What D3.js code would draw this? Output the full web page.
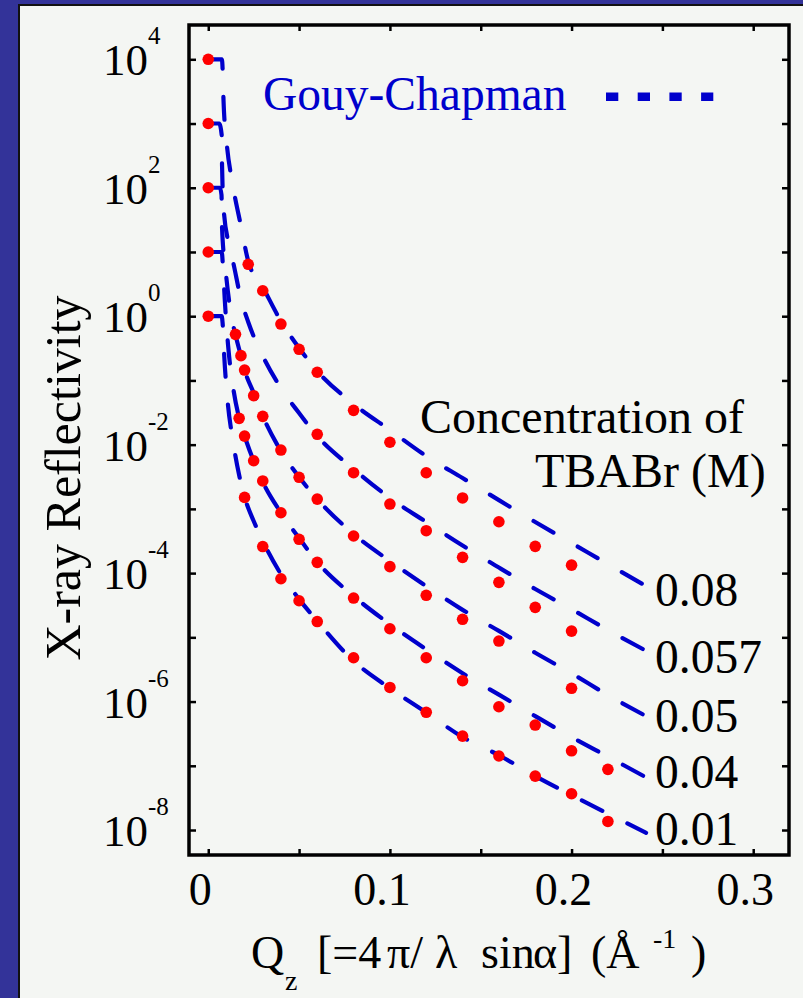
<!DOCTYPE html>
<html>
<head>
<meta charset="utf-8">
<script src="https://cdn.jsdelivr.net/npm/d3@7/dist/d3.min.js"></script>
<style>
  html, body { margin: 0; padding: 0; background: #333399; }
  svg { display: block; }
  text { font-family: "Liberation Serif", "Times New Roman", serif; fill: #000; }
</style>
</head>
<body>
<svg id="chart" width="803" height="998"></svg>
<script>
// ---- Data: X-ray reflectivity vs Qz, curves offset by decades ----
const concentrations = ["0.08", "0.057", "0.05", "0.04", "0.01"];

// measured points (Qz in 1/Å, offset reflectivity)
const qMeas008 = [0, 0.022, 0.03, 0.04, 0.05, 0.06, 0.08, 0.10, 0.12, 0.14, 0.16, 0.18, 0.20];
const rMeas008 = [1e4, 6.43, 2.49, 0.755, 0.305, 0.134, 0.0342, 0.0109, 0.00365, 0.00148, 6.3e-4, 2.61e-4, 1.33e-4];

const qMeas0057 = [0, 0.06, 0.08, 0.10, 0.12, 0.14, 0.16, 0.18, 0.20];
const rMeas0057 = [1e3, 0.0145, 0.00366, 0.00119, 4.57e-4, 1.76e-4, 7.18e-5, 2.93e-5, 1.25e-5];

const qMeas005 = [0, 0.015, 0.018, 0.02, 0.025, 0.03, 0.04, 0.05, 0.06, 0.08, 0.10, 0.12, 0.14, 0.16, 0.20];
const rMeas005 = [100, 0.522, 0.243, 0.145, 0.0578, 0.0276, 0.00824, 0.0031, 0.00142, 3.78e-4, 1.26e-4, 4.51e-5, 1.91e-5, 8.75e-6, 1.61e-6];

const qMeas004 = [0, 0.017, 0.02, 0.025, 0.03, 0.04, 0.05, 0.06, 0.08, 0.10, 0.12, 0.14, 0.16, 0.18, 0.20, 0.22];
const rMeas004 = [10, 0.0257, 0.0136, 0.00562, 0.00272, 8.7e-4, 3.36e-4, 1.47e-4, 4.09e-5, 1.36e-5, 4.81e-6, 2.11e-6, 8.3e-7, 4.31e-7, 1.71e-7, 8.8e-8];

const qMeas001 = [0, 0.02, 0.03, 0.04, 0.05, 0.06, 0.08, 0.10, 0.12, 0.14, 0.16, 0.18, 0.20, 0.22];
const rMeas001 = [1, 0.00151, 2.59e-4, 8.17e-5, 3.71e-5, 1.76e-5, 4.81e-6, 1.66e-6, 6.8e-7, 2.9e-7, 1.42e-7, 6.9e-8, 3.67e-8, 1.36e-8];

// Gouy-Chapman model curves
const qFit008 = [0, 0.0075, 0.0079, 0.0084, 0.0101, 0.0133, 0.018, 0.022, 0.03, 0.04, 0.05, 0.06, 0.08, 0.10, 0.12, 0.14, 0.16, 0.18, 0.20, 0.22, 0.241];
const rFit008 = [1e4, 1e4, 7.1e3, 2.3e3, 515, 119, 25.4, 7.23, 2.84, 0.841, 0.320, 0.140, 0.0430, 0.0169, 0.00665, 0.00302, 0.00137, 6.24e-4, 2.94e-4, 1.38e-4, 6.29e-5];

const qFit0057 = [0, 0.006, 0.0074, 0.0076, 0.0085, 0.011, 0.0138, 0.018, 0.022, 0.03, 0.04, 0.05, 0.06, 0.08, 0.10, 0.12, 0.14, 0.16, 0.18, 0.20, 0.22, 0.241];
const rFit0057 = [1e3, 1e3, 662, 218, 46.7, 14.45, 6.73, 1.853, 0.811, 0.240, 0.0762, 0.0310, 0.0136, 0.00417, 0.00148, 6.24e-4, 2.69e-4, 1.22e-4, 5.65e-5, 2.74e-5, 1.30e-5, 6.18e-6];

const qFit005 = [0, 0.0064, 0.0073, 0.0076, 0.0096, 0.0127, 0.015, 0.018, 0.02, 0.025, 0.03, 0.04, 0.05, 0.06, 0.08, 0.10, 0.12, 0.14, 0.16, 0.18, 0.20, 0.22, 0.241];
const rFit005 = [100, 100, 77.1, 23.6, 5.06, 1.01, 0.509, 0.240, 0.145, 0.0637, 0.0279, 0.00796, 0.00313, 0.00142, 4.06e-4, 1.54e-4, 6.27e-5, 2.68e-5, 1.26e-5, 5.75e-6, 2.75e-6, 1.26e-6, 5.94e-7];

const qFit004 = [0, 0.0074, 0.0082, 0.0091, 0.0109, 0.0135, 0.017, 0.02, 0.025, 0.03, 0.04, 0.05, 0.06, 0.08, 0.10, 0.12, 0.14, 0.16, 0.18, 0.20, 0.22, 0.241];
const rFit004 = [10, 10, 5.24, 1.79, 0.356, 0.0848, 0.0259, 0.0136, 0.00556, 0.00262, 8.71e-4, 3.52e-4, 1.49e-4, 4.38e-5, 1.60e-5, 6.50e-6, 2.76e-6, 1.28e-6, 5.94e-7, 2.80e-7, 1.39e-7, 6.61e-8];

const qFit001 = [0, 0.0074, 0.0079, 0.0088, 0.0105, 0.0137, 0.017, 0.02, 0.025, 0.03, 0.04, 0.05, 0.06, 0.08, 0.10, 0.12, 0.14, 0.16, 0.18, 0.20, 0.22, 0.241];
const rFit001 = [1, 1, 0.783, 0.240, 0.0532, 0.0110, 0.00337, 0.00153, 6.47e-4, 3.16e-4, 9.64e-5, 3.94e-5, 1.79e-5, 4.28e-6, 1.61e-6, 6.75e-7, 2.80e-7, 1.46e-7, 6.92e-8, 3.50e-8, 1.80e-8, 9.06e-9];

// axis ticks
const xTicks = [0, 0.05, 0.10, 0.15, 0.20, 0.25, 0.30];
const xTickLabels = [[0, "0"], [0.1, "0.1"], [0.2, "0.2"], [0.3, "0.3"]];
const yTickExponents = [4, 3, 2, 1, 0, -1, -2, -3, -4, -5, -6, -7, -8];
const yLabelExponents = [4, 2, 0, -2, -4, -6, -8];

const series = [
  { label: concentrations[0], q: qMeas008,  r: rMeas008,  fq: qFit008,  fr: rFit008 },
  { label: concentrations[1], q: qMeas0057, r: rMeas0057, fq: qFit0057, fr: rFit0057 },
  { label: concentrations[2], q: qMeas005,  r: rMeas005,  fq: qFit005,  fr: rFit005 },
  { label: concentrations[3], q: qMeas004,  r: rMeas004,  fq: qFit004,  fr: rFit004 },
  { label: concentrations[4], q: qMeas001,  r: rMeas001,  fq: qFit001,  fr: rFit001 }
];

// ---- Layout ----
const W = 803, H = 998;
const plot = { left: 189, right: 789, top: 25, bottom: 855 };
const BLUE = "#0000cc", RED = "#ff0000";

const svg = d3.select("#chart");

// slide background and light panel
svg.append("rect").attr("width", W).attr("height", H).attr("fill", "#333399");
svg.append("rect").attr("x", 19).attr("y", 5).attr("width", W).attr("height", H + 10)
  .attr("fill", "#f4f6f3").attr("stroke", "#111").attr("stroke-width", 2);

const x = d3.scaleLinear().domain([-0.0106, 0.3197]).range([plot.left, plot.right]);
const y = d3.scaleLog().domain([Math.pow(10, -8.389), Math.pow(10, 4.534)]).range([plot.bottom, plot.top]);

// ---- Axes (ticks point inward on all four sides) ----
const yTickVals = yTickExponents.map(e => Math.pow(10, e));
function styleAxis(g) {
  g.select(".domain").remove();
  g.selectAll(".tick line").attr("stroke", "#000").attr("stroke-width", 2.5);
  g.selectAll(".tick text").remove();
}
svg.append("g").attr("transform", `translate(${plot.left},0)`)
  .call(d3.axisLeft(y).tickValues(yTickVals).tickSize(-7).tickFormat(""))
  .call(styleAxis);
svg.append("g").attr("transform", `translate(${plot.right},0)`)
  .call(d3.axisRight(y).tickValues(yTickVals).tickSize(-7).tickFormat(""))
  .call(styleAxis);
svg.append("g").attr("transform", `translate(0,${plot.top})`)
  .call(d3.axisTop(x).tickValues(xTicks).tickSize(-6).tickFormat(""))
  .call(styleAxis);
svg.append("g").attr("transform", `translate(0,${plot.bottom})`)
  .call(d3.axisBottom(x).tickValues(xTicks).tickSize(-6).tickFormat(""))
  .call(styleAxis);

svg.append("rect")
  .attr("x", plot.left).attr("y", plot.top)
  .attr("width", plot.right - plot.left).attr("height", plot.bottom - plot.top)
  .attr("fill", "none").attr("stroke", "#000").attr("stroke-width", 3.5);

// y tick labels: 10 with superscript exponent
const yLab = svg.append("g");
yLabelExponents.forEach(e => {
  const t = yLab.append("text")
    .attr("x", 103).attr("y", y(Math.pow(10, e)) + 16)
    .attr("font-size", 45);
  t.append("tspan").text("10");
  t.append("tspan").attr("font-size", 25).attr("dy", -31).text(String(e));
});

// x tick labels
svg.append("g").selectAll("text").data(xTickLabels).join("text")
  .attr("x", d => x(d[0]) - 8).attr("y", 905)
  .attr("text-anchor", "middle").attr("font-size", 46)
  .text(d => d[1]);

// axis titles
svg.append("text")
  .attr("transform", "translate(80,478) rotate(-90)")
  .attr("text-anchor", "middle").attr("font-size", 50)
  .text("X-ray Reflectivity");

const xt = svg.append("g");
const xtPieces = [
  [251, 968, 46, "Q"],
  [285, 990, 28, "z"],
  [317, 968, 46, "[=4"],
  [387, 968, 46, "π/"],
  [435, 968, 46, "λ"],
  [481, 968, 46, "sin"],
  [533, 968, 46, "α]"],
  [591, 968, 46, "(Å"],
  [653, 948, 28, "-1"],
  [691, 968, 46, ")"]
];
xtPieces.forEach(p => {
  xt.append("text").attr("x", p[0]).attr("y", p[1]).attr("font-size", p[2]).text(p[3]);
});

// ---- Curves and points ----
const line = d3.line()
  .x(d => x(d[0]))
  .y(d => y(d[1]))
  .curve(d3.curveMonotoneX);

const plotArea = svg.append("g");
series.forEach(s => {
  const pts = s.fq.map((q, i) => [q, s.fr[i]]);
  plotArea.append("path")
    .attr("d", line(pts))
    .attr("fill", "none")
    .attr("stroke", BLUE)
    .attr("stroke-width", 4.2)
    .attr("stroke-linecap", "round")
    .attr("stroke-dasharray", "23,28");
});
series.forEach(s => {
  plotArea.append("g").selectAll("circle")
    .data(s.q.map((q, i) => [q, s.r[i]]))
    .join("circle")
    .attr("cx", d => x(d[0]))
    .attr("cy", d => y(d[1]))
    .attr("r", 5.8)
    .attr("fill", RED);
});

// concentration labels at the end of each curve
const labelBaselines = [606, 673, 732, 788, 845];
svg.append("g").selectAll("text").data(series).join("text")
  .attr("x", 655).attr("y", (d, i) => labelBaselines[i])
  .attr("font-size", 47.5)
  .text(d => d.label);

svg.append("text").attr("x", 420).attr("y", 433).attr("font-size", 48).text("Concentration of");
svg.append("text").attr("x", 535).attr("y", 487).attr("font-size", 48).text("TBABr (M)");

// legend
svg.append("text").attr("x", 263).attr("y", 110).attr("font-size", 47.5)
  .style("fill", BLUE).text("Gouy-Chapman");
svg.append("line")
  .attr("x1", 606).attr("x2", 713.3).attr("y1", 96.7).attr("y2", 96.7)
  .attr("stroke", BLUE).attr("stroke-width", 8.5)
  .attr("stroke-dasharray", "12.3,19.4");
</script>
</body>
</html>
